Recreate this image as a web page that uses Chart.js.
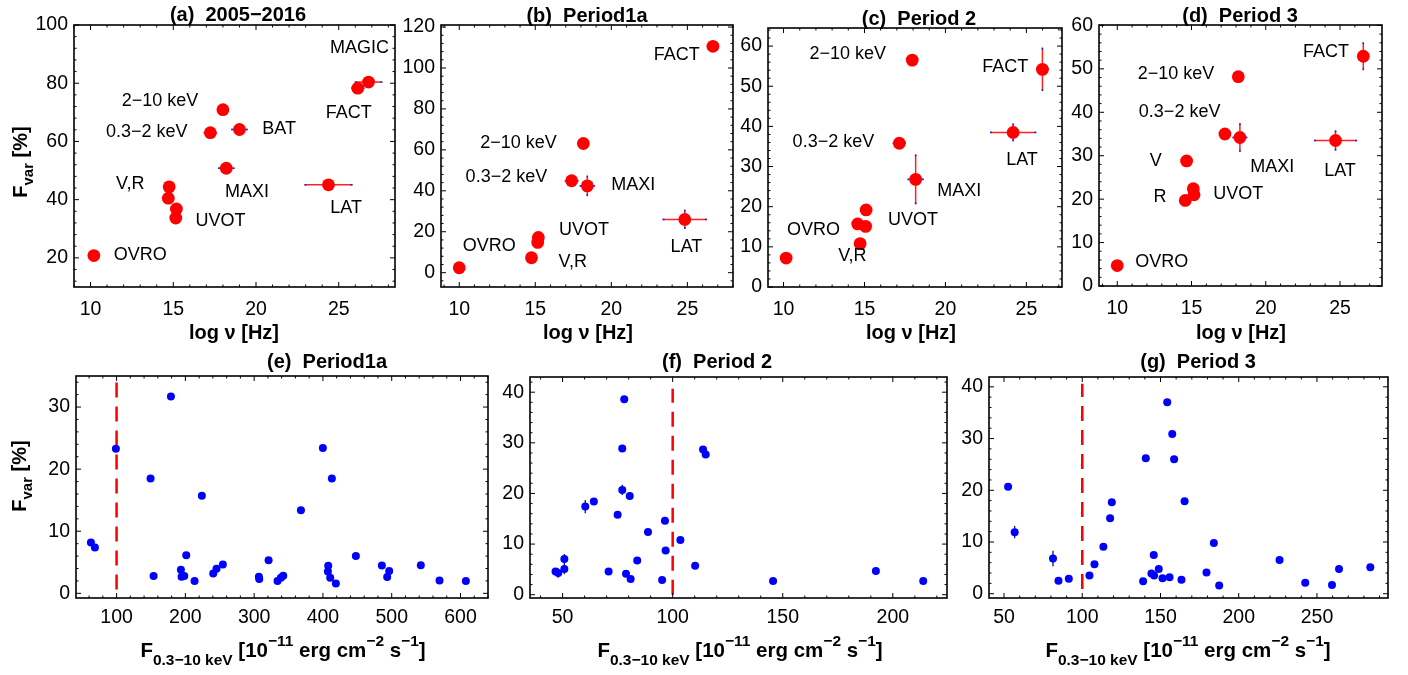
<!DOCTYPE html>
<html><head><meta charset="utf-8">
<script src="https://cdn.jsdelivr.net/npm/chart.js@4.4.1/dist/chart.umd.min.js"></script>
<style>
html,body{margin:0;padding:0;background:#fff;width:1408px;height:675px;overflow:hidden;position:relative;}
canvas{position:absolute;left:0;top:0;}
</style></head><body>
<script>
// ---------------- DATA ----------------
// (a) 2005-2016
const aX    = [10.2, 14.75, 14.7, 15.19, 15.15, 17.24, 18.0, 19.0, 18.2, 24.38, 26.15, 26.8];
const aY    = [20.8, 44.4, 40.5, 36.8, 33.7, 63.0, 70.9, 64.1, 50.8, 45.1, 78.3, 80.4];
const aXErr = [0, 0, 0, 0, 0, 0.4, 0.3, 0.5, 0.5, 1.45, 0.4, 0.83];
const aYErr = [0, 0, 0, 0, 0, 0, 0, 0, 0, 0, 0, 0];
const aLabels = [["MAGIC",26.25,92],["FACT",25.6,69.8],["2−10 keV",14.2,73.8],["0.3−2 keV",13.4,63.2],["BAT",21.4,64.4],["MAXI",19.45,42.5],["V,R",12.4,45.3],["UVOT",17.85,32.8],["OVRO",13.0,21],["LAT",25.45,37.1]];
const aXTicks = [10, 15, 20, 25];
const aYTicks = [20, 40, 60, 80, 100];

// (b) Period1a
const bX    = [10.0, 14.75, 15.2, 15.16, 17.39, 18.16, 18.42, 24.83, 26.68];
const bY    = [2.4, 7.3, 17.2, 14.8, 44.9, 63.1, 42.4, 26.0, 110.6];
const bXErr = [0, 0, 0, 0, 0.45, 0.3, 0.5, 1.46, 0.4];
const bYErr = [0, 0, 0, 0, 0, 0, 5, 4.7, 0];
const bLabels = [["FACT",24.3,106.5],["2−10 keV",13.9,63.1],["0.3−2 keV",13.1,46.8],["MAXI",21.44,42.8],["UVOT",18.2,20.8],["OVRO",11.97,13.2],["V,R",17.46,5.0],["LAT",24.94,12.7]];
const bXTicks = [10, 15, 20, 25];
const bYTicks = [0, 20, 40, 60, 80, 100, 120];

// (c) Period 2
const cX    = [10.16, 14.73, 14.58, 15.07, 15.1, 17.15, 17.95, 18.16, 24.18, 25.99];
const cY    = [7.2, 10.8, 15.7, 15.1, 19.2, 35.8, 56.5, 26.8, 38.5, 54.2];
const cXErr = [0, 0, 0, 0, 0, 0.4, 0.3, 0.5, 1.43, 0.4];
const cYErr = [0, 1.0, 0, 0, 0, 0, 0, 6.2, 2.2, 5.4];
const cLabels = [["2−10 keV",13.97,57.9],["FACT",23.7,54.8],["0.3−2 keV",13.08,36],["LAT",24.73,31.6],["MAXI",20.85,23.9],["UVOT",18.0,16.7],["OVRO",11.85,14.3],["V,R",14.25,7.8]];
const cXTicks = [10, 15, 20, 25];
const cYTicks = [0, 10, 20, 30, 40, 50, 60];

// (d) Period 3
const dX    = [10.0, 14.67, 14.58, 15.12, 15.17, 17.25, 18.15, 18.26, 24.7, 26.57];
const dY    = [4.7, 28.8, 19.7, 22.4, 21.0, 35.0, 48.2, 34.2, 33.5, 52.9];
const dXErr = [0, 0, 0, 0, 0, 0.4, 0.3, 0.5, 1.45, 0.3];
const dYErr = [0, 0, 0, 0, 0, 0, 0, 3.3, 2.3, 3.2];
const dLabels = [["FACT",24.06,53.8],["2−10 keV",13.95,48.7],["0.3−2 keV",14.2,40],["V",12.6,28.8],["MAXI",20.44,27.5],["LAT",25.0,26.5],["R",12.87,20.6],["UVOT",18.15,21.2],["OVRO",12.99,5.6]];
const dXTicks = [10, 15, 20, 25];
const dYTicks = [0, 10, 20, 30, 40, 50, 60];

// (e) Period1a  Fvar vs F(0.3-10 keV)
const eX = [62.7, 68.5, 99, 149.4, 153.8, 179, 193.5, 194.5, 198.4, 201.3, 213.4, 224, 240.5, 245.3, 254.5, 306.9, 307.4, 321, 334, 338.9, 342.3, 368, 399.9, 407.7, 407.2, 410.6, 413, 418.8, 447.9, 485.7, 493.4, 496.3, 542.3, 569.5, 607.8];
const eY = [8.17, 7.37, 23.3, 18.5, 2.78, 31.7, 3.8, 2.67, 2.78, 6.14, 1.98, 15.7, 3.2, 3.95, 4.64, 2.67, 2.3, 5.34, 1.98, 2.51, 2.83, 13.4, 23.4, 4.43, 3.52, 2.51, 18.5, 1.6, 6.03, 4.48, 2.62, 3.58, 4.54, 2.08, 1.98];
const eYErr = eX.map(() => 0.3);
const eXTicks = [100, 200, 300, 400, 500, 600];
const eYTicks = [0, 10, 20, 30];

// (f) Period 2
const fX = [46.8, 48.0, 50.8, 50.8, 60.3, 64.2, 70.9, 75, 77.1, 77.1, 78, 78.8, 80.5, 80.9, 83.9, 88.8, 95.2, 96.5, 96.8, 103.5, 110.2, 113.8, 115, 145.6, 192.3, 213.8];
const fY = [4.6, 4.27, 7.03, 5.06, 17.4, 18.4, 4.6, 15.8, 28.9, 20.7, 38.6, 4.14, 19.5, 3.09, 6.77, 12.4, 2.89, 14.6, 8.74, 10.8, 5.7, 28.7, 27.7, 2.69, 4.66, 2.69];
const fYErr = [0.6, 0.9, 1.0, 1.0, 1.3, 0.5, 0.4, 0.5, 0.5, 1.0, 0.5, 0.5, 0.5, 0.5, 0.5, 0.5, 0.4, 0.5, 0.5, 0.5, 0.5, 0.5, 0.5, 0.3, 0.4, 0.3];
const fXTicks = [50, 100, 150, 200];
const fYTicks = [0, 10, 20, 30, 40];

// (g) Period 3
const gX = [52.6, 56.8, 81.3, 84.8, 91.4, 104.6, 107.8, 113.5, 117.8, 118.9, 138.9, 140.6, 144.2, 145.7, 145.9, 148.9, 151.3, 154.3, 155.8, 157.5, 158.7, 163.4, 165.4, 179.4, 184.1, 187.5, 226.1, 242.5, 259.6, 264.1, 284.1];
const gY = [20.7, 11.9, 6.8, 2.5, 2.9, 3.5, 5.7, 9.1, 14.6, 17.7, 2.4, 26.2, 3.9, 7.5, 3.5, 4.8, 3.0, 37.0, 3.2, 30.9, 26.0, 2.7, 17.9, 4.1, 9.8, 1.6, 6.5, 2.1, 1.7, 4.8, 5.1];
const gYErr = [0.4, 1.2, 1.5, 0.4, 0.4, 0.4, 0.4, 0.4, 0.4, 0.4, 0.4, 0.4, 0.4, 0.4, 0.4, 0.4, 0.4, 0.4, 0.4, 0.4, 0.4, 0.4, 0.4, 0.4, 0.4, 0.4, 0.4, 0.4, 0.4, 0.4, 0.4];
const gXTicks = [50, 100, 150, 200, 250, 300];
const gYTicks = [0, 10, 20, 30, 40];

const fluxThreshold = 100;

// ---------------- RENDERING ----------------
const FONT = "'Liberation Sans', Arial, Helvetica, sans-serif";
const SPECS = new WeakMap();
const zeros = a => a.map(() => 0);

function line(ctx, x0, y0, x1, y1) { ctx.beginPath(); ctx.moveTo(x0, y0); ctx.lineTo(x1, y1); ctx.stroke(); }

function drawRuns(ctx, runs, cx, baseY) {
  // runs: [text, size, dy]
  let total = 0;
  runs.forEach(r => { ctx.font = 'bold ' + r[1] + 'px ' + FONT; r.w = ctx.measureText(r[0]).width; total += r.w; });
  let x = cx - total / 2;
  ctx.textAlign = 'left'; ctx.textBaseline = 'alphabetic';
  runs.forEach(r => { ctx.font = 'bold ' + r[1] + 'px ' + FONT; ctx.fillText(r[0], x, baseY + r[2]); x += r.w; });
}

const framePlugin = {
  id: 'frame',
  beforeDatasetsDraw(chart) {
    const p = SPECS.get(chart.canvas); if (!p) return;
    const xs = chart.scales.x, ys = chart.scales.y, ctx = chart.ctx;
    ctx.save();
    ctx.lineWidth = p.errWidth;
    for (let i = 0; i < p.xs.length; i++) {
      const cx = xs.getPixelForValue(p.xs[i]), cy = ys.getPixelForValue(p.ys[i]);
      if (p.xe[i] > 0) {
        const x0 = xs.getPixelForValue(p.xs[i] - p.xe[i]), x1 = xs.getPixelForValue(p.xs[i] + p.xe[i]);
        ctx.strokeStyle = p.errColor; line(ctx, x0, cy, x1, cy);
        if (p.capColor) { ctx.strokeStyle = p.capColor; line(ctx, x0, cy, x0 + 2, cy); line(ctx, x1 - 2, cy, x1, cy); }
      }
      if (p.ye[i] > 0) {
        const y0 = ys.getPixelForValue(p.ys[i] - p.ye[i]), y1 = ys.getPixelForValue(p.ys[i] + p.ye[i]);
        ctx.strokeStyle = p.errColor; line(ctx, cx, y0, cx, y1);
        if (p.capColor) { ctx.strokeStyle = p.capColor; line(ctx, cx, y0, cx, y0 - 2); line(ctx, cx, y1, cx, y1 + 2); }
      }
    }
    ctx.restore();
  },
  afterDraw(chart) {
    const p = SPECS.get(chart.canvas); if (!p) return;
    const xs = chart.scales.x, ys = chart.scales.y, ctx = chart.ctx;
    const { left, right, top, bottom } = chart.chartArea;
    ctx.save();
    ctx.strokeStyle = '#000';
    // inward ticks
    ctx.lineWidth = 1;
    const isMajor = (arr, v, st) => arr.some(m => Math.abs(m - v) < st * 1e-3);
    const tx = (v, len) => { const px = xs.getPixelForValue(v); line(ctx, px, bottom, px, bottom - len); line(ctx, px, top, px, top + len); };
    const ty = (v, len) => { const py = ys.getPixelForValue(v); line(ctx, left, py, left + len, py); line(ctx, right, py, right - len, py); };
    for (let v = Math.ceil(xs.min / p.xMinor) * p.xMinor; v <= xs.max; v += p.xMinor) tx(v, isMajor(p.xTicks, v, p.xMinor) ? 5 : 2.5);
    for (let v = Math.ceil(ys.min / p.yMinor) * p.yMinor; v <= ys.max; v += p.yMinor) ty(v, isMajor(p.yTicks, v, p.yMinor) ? 5 : 2.5);
    // frame
    ctx.lineWidth = 1.6;
    ctx.strokeRect(left, top, right - left, bottom - top);
    // point labels
    ctx.fillStyle = '#000';
    ctx.font = '18px ' + FONT; ctx.textAlign = 'center'; ctx.textBaseline = 'middle';
    (p.labels || []).forEach(l => ctx.fillText(l[0], xs.getPixelForValue(l[1]), ys.getPixelForValue(l[2])));
    // title
    drawRuns(ctx, [[p.title, 20, 0]], p.titlePos[0], p.titlePos[1]);
    // x axis title
    if (p.xTitleKind === 'nu') {
      drawRuns(ctx, [['log ν [Hz]', 20, 0]], p.xTitlePos[0], p.xTitlePos[1]);
    } else {
      drawRuns(ctx, [['F', 20.5, 0], ['0.3−10 keV', 15.5, 8], [' [10', 20.5, 0], ['−11', 15.5, -11], [' erg cm', 20.5, 0], ['−2', 15.5, -11], [' s', 20.5, 0], ['−1', 15.5, -11], [']', 20.5, 0]], p.xTitlePos[0], p.xTitlePos[1]);
    }
    // y axis title
    if (p.yTitlePos) {
      ctx.save();
      ctx.translate(p.yTitlePos[0], p.yTitlePos[1]);
      ctx.rotate(-Math.PI / 2);
      drawRuns(ctx, [['F', 20, 0], ['var', 15, 6], [' [%]', 20, 0]], 0, 0);
      ctx.restore();
    }
    ctx.restore();
  }
};

function buildChart(p) {
  const canvas = document.createElement('canvas');
  canvas.width = 1408; canvas.height = 675;
  canvas.style.width = '1408px'; canvas.style.height = '675px';
  document.body.appendChild(canvas);
  SPECS.set(canvas, p);
  const YW = 50, XH = 40;
  const datasets = [{
    data: p.xs.map((x, i) => ({ x: x, y: p.ys[i] })),
    backgroundColor: p.color, borderColor: p.color, borderWidth: 0,
    pointRadius: p.radius, pointHoverRadius: p.radius, pointBorderWidth: 0, showLine: false
  }];
  if (p.vline) {
    datasets.push({
      data: [{ x: p.vline[0], y: p.vline[1] }, { x: p.vline[0], y: p.vline[2] }],
      showLine: true, borderColor: '#ff0000', borderWidth: 2.5, borderDash: [15, 9],
      pointRadius: 0, fill: false
    });
  }
  const tickFont = { family: FONT, size: 19.5 };
  new Chart(canvas, {
    type: 'scatter',
    data: { datasets: datasets },
    options: {
      responsive: false, animation: false, events: [], devicePixelRatio: 1,
      layout: { padding: { left: p.area[0] - YW, top: p.area[1], right: 1408 - p.area[2], bottom: 675 - p.area[3] - XH } },
      plugins: { legend: { display: false }, tooltip: { enabled: false }, title: { display: false } },
      scales: {
        x: {
          type: 'linear', min: p.xr[0], max: p.xr[1],
          grid: { display: false, drawTicks: false }, border: { display: false },
          afterBuildTicks: s => { s.ticks = p.xTicks.filter(v => v >= p.xr[0] && v <= p.xr[1]).map(v => ({ value: v })); },
          afterFit: s => { s.height = XH; },
          ticks: { padding: p.xPad, font: tickFont, color: '#000', maxRotation: 0, autoSkip: false, callback: v => String(v) }
        },
        y: {
          type: 'linear', min: p.yr[0], max: p.yr[1],
          grid: { display: false, drawTicks: false }, border: { display: false },
          afterBuildTicks: s => { s.ticks = p.yTicks.filter(v => v >= p.yr[0] && v <= p.yr[1]).map(v => ({ value: v })); },
          afterFit: s => { s.width = YW; },
          ticks: { padding: 6, font: tickFont, color: '#000', autoSkip: false, callback: v => String(v) }
        }
      }
    },
    plugins: [framePlugin]
  });
}

const TOP = { color: '#ff0000', radius: 6.4, errColor: '#ff2020', capColor: '#2020ff', errWidth: 1.5, xMinor: 1, xPad: 11, xTitleKind: 'nu' };
const BOT = { color: '#0000ff', radius: 4, errColor: '#14146e', capColor: null, errWidth: 1.3, xPad: 8, yMinor: 2, xTitleKind: 'flux' };

buildChart(Object.assign({}, TOP, { xs: aX, ys: aY, xe: aXErr, ye: aYErr, labels: aLabels, xTicks: aXTicks, yTicks: aYTicks,
  area: [74, 25, 395, 287], xr: [9, 28.4], yr: [10, 100], yMinor: 4,
  title: '(a)  2005−2016', titlePos: [238, 21], xTitlePos: [234, 339], yTitlePos: [26.5, 162] }));
buildChart(Object.assign({}, TOP, { xs: bX, ys: bY, xe: bXErr, ye: bYErr, labels: bLabels, xTicks: bXTicks, yTicks: bYTicks,
  area: [441, 25, 733, 287], xr: [8.8, 28], yr: [-7, 121], yMinor: 4,
  title: '(b)  Period1a', titlePos: [587, 22], xTitlePos: [588, 339] }));
buildChart(Object.assign({}, TOP, { xs: cX, ys: cY, xe: cXErr, ye: cYErr, labels: cLabels, xTicks: cXTicks, yTicks: cYTicks,
  area: [768, 28, 1062, 287], xr: [9.04, 27.2], yr: [0, 64.5], yMinor: 2,
  title: '(c)  Period 2', titlePos: [919, 25], xTitlePos: [911, 339] }));
buildChart(Object.assign({}, TOP, { xs: dX, ys: dY, xe: dXErr, ye: dYErr, labels: dLabels, xTicks: dXTicks, yTicks: dYTicks,
  area: [1099, 25, 1382, 286], xr: [8.77, 27.83], yr: [0, 60.1], yMinor: 2,
  title: '(d)  Period 3', titlePos: [1240, 22], xTitlePos: [1241, 339] }));

buildChart(Object.assign({}, BOT, { xs: eX, ys: eY, xe: zeros(eX), ye: eYErr, xTicks: eXTicks, yTicks: eYTicks,
  area: [76, 376, 488, 598], xr: [41, 640], yr: [-0.75, 35], xMinor: 20, vline: [fluxThreshold, 0.6, 34.3],
  title: '(e)  Period1a', titlePos: [327, 368], xTitlePos: [283, 657], yTitlePos: [26, 476] }));
buildChart(Object.assign({}, BOT, { xs: fX, ys: fY, xe: zeros(fX), ye: fYErr, xTicks: fXTicks, yTicks: fYTicks,
  area: [530, 377, 947, 598], xr: [35.2, 224.6], yr: [-0.65, 43], xMinor: 10, vline: [fluxThreshold, 0, 40.7],
  title: '(f)  Period 2', titlePos: [717, 368], xTitlePos: [740, 657] }));
buildChart(Object.assign({}, BOT, { xs: gX, ys: gY, xe: zeros(gX), ye: gYErr, xTicks: gXTicks, yTicks: gYTicks,
  area: [989, 377, 1388, 598], xr: [40.4, 295.4], yr: [-0.83, 41.9], xMinor: 10, vline: [fluxThreshold, 0.9, 40.6],
  title: '(g)  Period 3', titlePos: [1198, 368], xTitlePos: [1188, 657] }));
</script>
</body></html>
